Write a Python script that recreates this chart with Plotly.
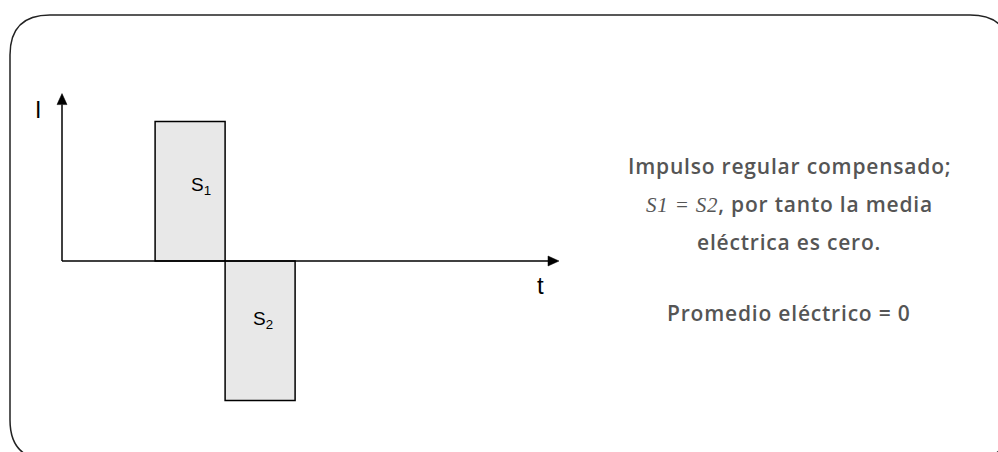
import plotly.graph_objects as go

# ---- data (diagram units: time t, current I) ----
pulse_start = [1.33, 2.33]
pulse_width = [1.0, 1.0]
pulse_amp = [1.0, -1.0]
pulse_labels = ["S<sub>1</sub>", "S<sub>2</sub>"]
axis_t_max = 7.1
axis_i_max = 1.2
axis_labels = ["I", "t"]
SP = "letter-spacing:0.8px"
text_lines = [
    f'<span style="{SP}">Impulso regular compensado;</span>',
    f'<span style="font-family:\'Liberation Serif\';font-style:italic;font-weight:normal;{SP}">S1 = S2</span>'
    f'<span style="{SP}">, por tanto la media</span>',
    f'<span style="{SP}">eléctrica es cero.</span>',
    f'<span style="{SP}">Promedio eléctrico = 0</span>',
]

# ---- layout geometry ----
W, H = 998, 452
OX, OY = 62, 261          # pixel position of the origin
SX, SY = 70.0, 139.5      # pixels per unit
xr = [-OX / SX, (W - OX) / SX]
yr = [(OY - H) / SY, OY / SY]


def px(x):
    return x / W


def py(y):
    return 1 - y / H


fig = go.Figure()

centers = [s + w / 2 for s, w in zip(pulse_start, pulse_width)]
fig.add_trace(go.Bar(
    x=centers, y=pulse_amp, width=pulse_width,
    marker=dict(color="#e8e8e8", line=dict(color="#000000", width=1.5)),
    hoverinfo="skip", showlegend=False,
))

# axes lines
head_len, head_half = 11, 5
fig.add_trace(go.Scatter(x=[0, 0], y=[0, axis_i_max - head_len / SY], mode="lines",
                         line=dict(color="#000", width=1.5), hoverinfo="skip", showlegend=False))
fig.add_trace(go.Scatter(x=[0, axis_t_max - head_len / SX], y=[0, 0], mode="lines",
                         line=dict(color="#000", width=1.5), hoverinfo="skip", showlegend=False))
# arrowheads
fig.add_trace(go.Scatter(
    x=[-head_half / SX, head_half / SX, 0, -head_half / SX],
    y=[axis_i_max - head_len / SY, axis_i_max - head_len / SY, axis_i_max, axis_i_max - head_len / SY],
    mode="lines", fill="toself", fillcolor="#000", line=dict(color="#000", width=0.5),
    hoverinfo="skip", showlegend=False))
fig.add_trace(go.Scatter(
    x=[axis_t_max - head_len / SX, axis_t_max - head_len / SX, axis_t_max, axis_t_max - head_len / SX],
    y=[-head_half / SY, head_half / SY, 0, -head_half / SY],
    mode="lines", fill="toself", fillcolor="#000", line=dict(color="#000", width=0.5),
    hoverinfo="skip", showlegend=False))

# rounded border
L, T, Rt, B, R = 10, 15, 1010, 460, 40
path = (f"M {px(L)},{py(T+R)} Q {px(L)},{py(T)} {px(L+R)},{py(T)} "
        f"L {px(Rt-R)},{py(T)} Q {px(Rt)},{py(T)} {px(Rt)},{py(T+R)} "
        f"L {px(Rt)},{py(B-R)} Q {px(Rt)},{py(B)} {px(Rt-R)},{py(B)} "
        f"L {px(L+R)},{py(B)} Q {px(L)},{py(B)} {px(L)},{py(B-R)} Z")
fig.add_shape(type="path", path=path, xref="paper", yref="paper",
              line=dict(color="#222", width=1.5))

annos = []
# pulse labels
offs = [(0.16, 0.54), (0.04, -0.42)]
for c, lab, (dx, yy) in zip(centers, pulse_labels, offs):
    annos.append(dict(x=c + dx, y=yy, xref="x", yref="y", text=lab, showarrow=False,
                      font=dict(family="Liberation Sans", size=19, color="#000")))
# axis labels
annos.append(dict(x=px(33), y=py(95), xref="paper", yref="paper", text=axis_labels[0],
                  showarrow=False, font=dict(family="Liberation Sans", size=23, color="#000")))
annos.append(dict(x=px(540), y=py(285), xref="paper", yref="paper", text=axis_labels[1],
                  showarrow=False, font=dict(family="Liberation Sans", size=24, color="#000")))
# right-hand text
for line, yy in zip(text_lines, [166, 204, 242, 313]):
    annos.append(dict(x=px(789), y=py(yy), xref="paper", yref="paper", text=line,
                      showarrow=False, xanchor="center", yanchor="middle",
                      font=dict(family="Open Sans", size=21, color="#555555", weight=600)))

fig.update_layout(
    width=W, height=H, margin=dict(l=0, r=0, t=0, b=0),
    paper_bgcolor="white", plot_bgcolor="white",
    xaxis=dict(range=xr, visible=False, fixedrange=True),
    yaxis=dict(range=yr, visible=False, fixedrange=True),
    annotations=annos, showlegend=False,
)
fig.write_html("out.html", config={"displayModeBar": False},
               post_script="document.body.style.margin='0';document.body.style.overflow='hidden';")
